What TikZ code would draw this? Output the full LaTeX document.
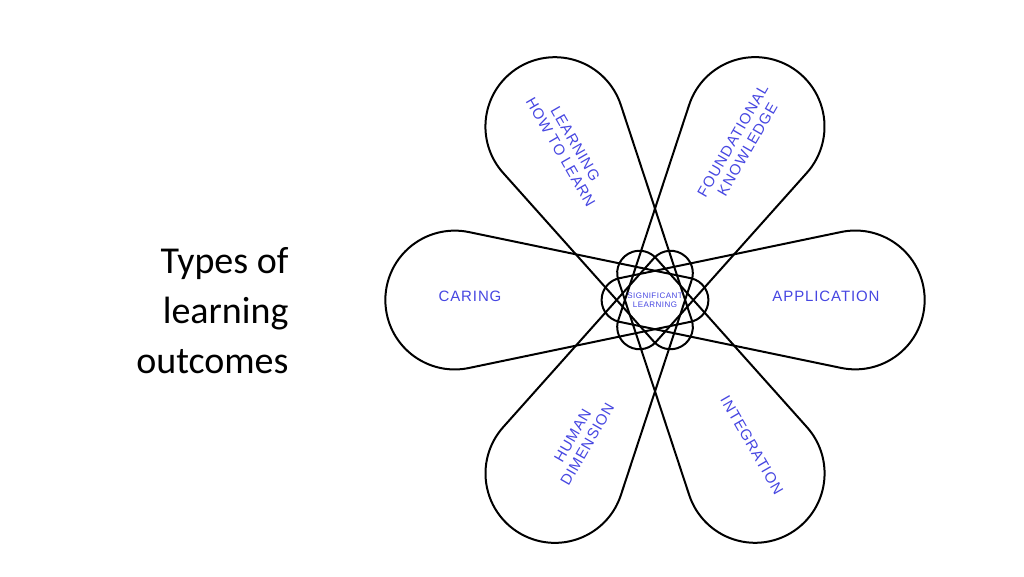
\documentclass[tikz,border=0pt]{standalone}
\usepackage{fontspec}
\setmainfont{Carlito}
\newfontfamily\petalfont[LetterSpace=6]{Liberation Sans}
\usetikzlibrary{positioning}
\definecolor{petalblue}{RGB}{70,70,225}
\tikzset{petal/.style={line width=2pt, black},
         plabel/.style={text=petalblue, font=\petalfont\fontsize{15}{17}\selectfont, align=center}}
\begin{document}
\begin{tikzpicture}[x=1pt, y=1pt]
  \useasboundingbox (0,0) rectangle (1024,576);
  % six petals around the centre
  \foreach \ang in {0,60,...,300} {
    \begin{scope}[shift={(655,276)}, rotate=\ang, scale=0.89]
      \draw[petal] (209.1,76.4) arc[start angle=101.76, end angle=-101.76, radius=78]
        -- (-40.1,-24.5) arc[start angle=258.24, end angle=101.76, radius=25] -- cycle;
    \end{scope}
  }
  \node[plabel, font=\petalfont\fontsize{8}{9}\selectfont] (center) at (655,276) {SIGNIFICANT\\LEARNING};
  \node[plabel] (caring) at (470,280) {CARING};
  \node[plabel] (application) at (826,280) {APPLICATION};
  \node[plabel, rotate=-60] (learn) at (568,428) {LEARNING\\HOW TO LEARN};
  \node[plabel, rotate=60] (found) at (740,431) {FOUNDATIONAL\\KNOWLEDGE};
  \node[plabel, rotate=60] (human) at (580,136) {HUMAN\\DIMENSION};
  \node[plabel, rotate=-60] (integ) at (752,131) {INTEGRATION};
  % title
  \node[align=right, anchor=east, font=\fontsize{38}{50}\selectfont] (title) at (292,265) {Types of\\learning\\outcomes};
\end{tikzpicture}
\end{document}
